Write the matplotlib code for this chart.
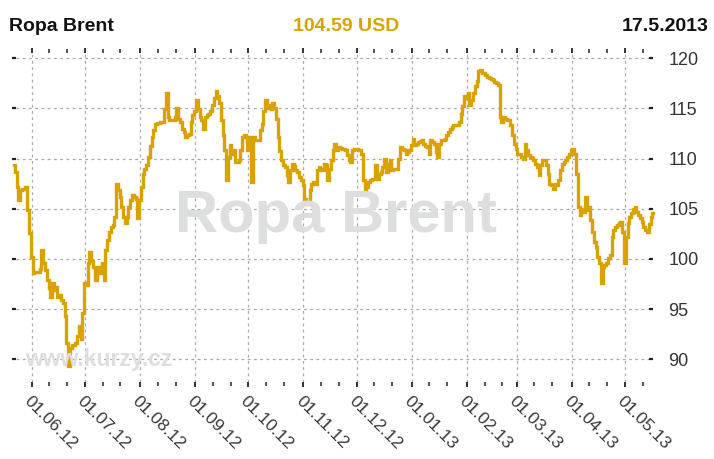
import numpy as np
import pandas as pd
import matplotlib
matplotlib.use('Agg')
import matplotlib.pyplot as plt
import matplotlib.dates as mdates

plt.rcParams['font.family'] = ['Liberation Sans', 'DejaVu Sans']

# ---------------- data (daily Brent price) ----------------
start_date = '2012-05-22'
prices = [
    109.4, 108.7, 107.2, 105.9, 106.9, 107.0, 107.0, 107.2, 104.9, 102.6,
    100.2, 98.6, 98.7, 98.7, 98.7, 99.0, 100.9, 99.6, 98.9, 97.9,
    97.1, 96.2, 97.6, 96.9, 97.2, 96.2, 96.4, 95.9, 95.6, 94.3,
    91.6, 89.3, 91.1, 91.4, 91.4, 91.6, 92.3, 93.3, 92.0, 94.6,
    97.6, 97.4, 99.6, 100.7, 99.8, 99.2, 97.9, 98.9, 99.2, 98.6,
    99.6, 97.9, 100.9, 101.9, 102.7, 103.2, 103.4, 104.2, 107.5, 106.9,
    106.2, 105.2, 104.2, 103.6, 104.2, 105.2, 105.9, 106.4, 106.2, 106.0,
    104.1, 105.9, 107.2, 108.5, 109.0, 109.4, 110.2, 111.3, 112.2, 112.9,
    113.5, 113.6, 113.6, 113.7, 113.7, 114.9, 116.5, 114.2, 113.9, 113.9,
    113.9, 114.2, 115.0, 114.0, 113.7, 113.0, 112.7, 112.2, 112.4, 112.5,
    113.7, 114.4, 114.7, 115.8, 114.9, 114.2, 113.9, 113.0, 114.2, 114.4,
    114.5, 114.7, 115.3, 116.0, 116.7, 116.2, 115.5, 113.9, 112.4, 110.9,
    107.9, 110.2, 111.4, 110.5, 110.9, 109.7, 109.7, 109.9, 110.9, 112.2,
    112.4, 112.2, 110.9, 112.2, 107.7, 112.2, 111.9, 111.9, 111.9, 112.9,
    113.5, 114.7, 115.8, 115.0, 115.3, 114.9, 115.5, 115.0, 114.0, 112.2,
    110.8, 109.9, 109.4, 109.2, 108.4, 107.7, 108.9, 109.5, 109.3, 108.9,
    108.7, 108.2, 107.9, 107.4, 106.0, 105.5, 105.5, 106.9, 107.5, 107.7,
    107.5, 108.9, 109.2, 109.0, 108.9, 109.5, 109.4, 107.9, 109.0, 109.9,
    110.9, 111.5, 110.9, 111.2, 111.1, 111.0, 111.0, 110.9, 110.4, 109.9,
    109.7, 110.9, 111.0, 111.0, 110.9, 110.9, 110.5, 107.9, 106.9, 107.2,
    107.7, 107.9, 108.0, 108.0, 109.4, 108.0, 108.5, 108.7, 109.2, 110.0,
    108.7, 109.5, 109.9, 108.9, 109.0, 109.0, 109.0, 110.0, 111.2, 111.0,
    110.9, 110.5, 110.7, 110.9, 111.4, 112.0, 111.4, 111.5, 111.7, 111.8,
    111.9, 111.5, 111.3, 111.2, 110.5, 111.9, 111.7, 111.5, 110.7, 110.2,
    111.5, 111.9, 111.9, 112.0, 112.4, 112.7, 113.0, 113.2, 113.4, 113.4,
    113.4, 113.7, 114.5, 115.2, 116.2, 116.0, 116.5, 115.3, 115.8, 116.5,
    117.2, 117.7, 118.7, 118.8, 118.5, 118.5, 118.3, 118.1, 118.0, 117.9,
    117.8, 117.6, 117.5, 117.3, 114.2, 113.7, 114.2, 114.0, 113.9, 113.9,
    113.4, 112.4, 111.5, 111.0, 110.5, 110.5, 110.2, 110.0, 111.5, 110.9,
    110.4, 110.2, 110.1, 109.9, 109.5, 109.2, 108.4, 109.4, 109.9, 109.9,
    109.4, 108.5, 107.5, 107.4, 107.0, 107.5, 107.4, 107.9, 108.9, 109.5,
    109.7, 109.9, 110.2, 110.5, 110.9, 111.0, 110.5, 108.5, 105.2, 104.4,
    105.0, 104.7, 106.2, 104.9, 105.2, 103.9, 102.7, 101.7, 101.2, 100.2,
    99.6, 97.6, 99.2, 99.4, 99.6, 100.1, 100.4, 102.2, 102.9, 103.2,
    103.4, 103.6, 103.7, 102.7, 99.6, 102.2, 103.6, 104.2, 104.6, 105.0,
    105.2, 104.7, 104.4, 104.1, 103.7, 103.2, 102.9, 102.7, 103.5, 104.2, 104.59,
]
dates = pd.date_range(start_date, periods=len(prices), freq='D')

y_ticks = [90, 95, 100, 105, 110, 115, 120]
title_left = 'Ropa Brent'
title_mid = '104.59 USD'
title_right = '17.5.2013'
watermark_text = 'Ropa Brent'
site_text = 'www.kurzy.cz'

GOLD = '#D9A200'
W, H = 714, 459

fig = plt.figure(figsize=(W / 100, H / 100), dpi=100)
fig.patch.set_facecolor('white')

ax_l, ax_r, ax_t, ax_b = 16, 649, 53, 382
ax = fig.add_axes([ax_l / W, 1 - ax_b / H, (ax_r - ax_l) / W, (ax_b - ax_t) / H])
ax.set_facecolor('none')

ref = pd.Timestamp('2012-06-01')
x0 = mdates.date2num(ref - pd.Timedelta(days=8.84))
x1 = mdates.date2num(ref + pd.Timedelta(days=347.6))
ax.set_xlim(x0, x1)
ax.set_ylim(87.74, 120.53)

ax.plot(dates, prices, color=GOLD, linewidth=2.4, drawstyle='steps-mid',
        clip_on=False, zorder=3, solid_joinstyle='miter')

for s in ax.spines.values():
    s.set_visible(False)

ax.xaxis.set_major_locator(mdates.MonthLocator(bymonthday=1))
ax.xaxis.set_minor_locator(mdates.DayLocator(bymonthday=[11, 21]))
ax.xaxis.set_major_formatter(mdates.DateFormatter('%d.%m.%y'))
ax.tick_params(axis='x', which='both', top=True, bottom=True, direction='out',
               color='#222222')
ax.tick_params(axis='x', which='major', length=3.6, width=1.3, pad=5,
               labelsize=12.5, labelcolor='#383838', labelrotation=-45)
ax.tick_params(axis='x', which='minor', length=2.8, width=1.1)
for lbl in ax.get_xticklabels():
    lbl.set_ha('left')
    lbl.set_va('top')
    lbl.set_rotation_mode('anchor')

ax.set_yticks(y_ticks)
ax.tick_params(axis='y', which='major', left=True, right=True, labelleft=False,
               labelright=True, direction='out', length=3, width=1.6,
               color='#222222', pad=11, labelsize=13, labelcolor='#333333')

ax.grid(True, which='major', color='#a8a8a8', linestyle=(0, (2.2, 2.8)),
        linewidth=0.9, zorder=1)
ax.set_axisbelow(True)

# watermarks
fig.text(336 / W, 1 - 232 / H, watermark_text, fontsize=43, fontweight='bold',
         color='#DDDEDE', ha='center', va='baseline', zorder=0)
fig.text(25 / W, 1 - 366 / H, site_text, fontsize=16.5, fontweight='bold',
         color='#DDDEDE', ha='left', va='baseline', zorder=0)

# header
fig.text(9 / W, 1 - 31 / H, title_left, fontsize=14, fontweight='bold',
         color='#111111', ha='left', va='baseline')
fig.text(346 / W, 1 - 31 / H, title_mid, fontsize=14, fontweight='bold',
         color=GOLD, ha='center', va='baseline')
fig.text(709 / W, 1 - 31 / H, title_right, fontsize=14, fontweight='bold',
         color='#111111', ha='right', va='baseline')

fig.savefig('out.png', dpi=100, facecolor='white')
